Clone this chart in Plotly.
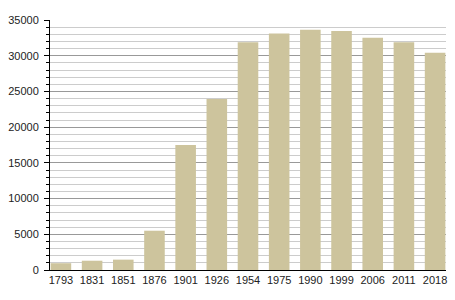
import plotly.graph_objects as go

years = ["1793", "1831", "1851", "1876", "1901", "1926", "1954", "1975", "1990", "1999", "2006", "2011", "2018"]
population = [950, 1300, 1450, 5500, 17500, 23950, 31900, 33100, 33650, 33450, 32500, 31900, 30400]
y_ticks = [0, 5000, 10000, 15000, 20000, 25000, 30000, 35000]

fig = go.Figure()
fig.add_trace(go.Bar(x=years, y=population, marker=dict(color="#cdc49d", line=dict(width=0)),
                     hoverinfo="x+y"))

fig.update_layout(
    width=455, height=300,
    margin=dict(l=50, r=9, t=20, b=30, autoexpand=False),
    paper_bgcolor="white", plot_bgcolor="white",
    bargap=0.34,
    showlegend=False,
    font=dict(family="Liberation Sans, Arial, sans-serif", size=11, color="#222"),
)
fig.update_xaxes(
    type="category", range=[-0.35, 12.35],
    showline=True, linecolor="black", linewidth=1,
    ticks="", showgrid=False, tickfont=dict(size=11, color="#222"),
    fixedrange=True, automargin=False,
)
fig.update_yaxes(
    range=[0, 35000], tickvals=y_ticks, ticktext=[str(v) for v in y_ticks],
    showline=True, linecolor="black", linewidth=1,
    ticks="outside", ticklen=5, tickcolor="black",
    ticklabelstandoff=3, automargin=False,
    showgrid=True, gridcolor="#999999", gridwidth=1,
    minor=dict(dtick=1000, showgrid=True, gridcolor="#cccccc", gridwidth=1,
               ticks="outside", ticklen=3, tickcolor="black"),
    zeroline=False, tickfont=dict(size=11, color="#222"),
    fixedrange=True,
)

fig.write_html("out.html")
